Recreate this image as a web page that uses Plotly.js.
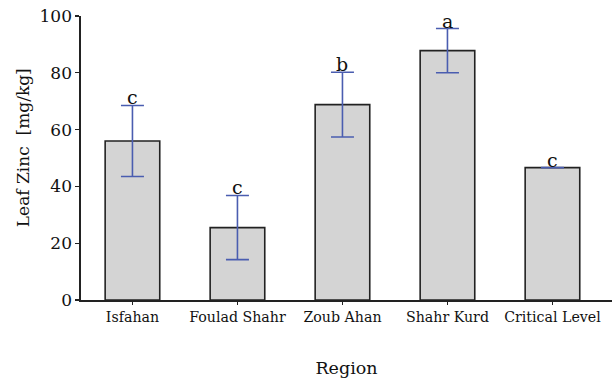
<!DOCTYPE html>
<html><head><meta charset="utf-8">
<script src="https://cdn.plot.ly/plotly-3.0.1.min.js"></script>
<style>html,body{margin:0;padding:0;background:#fff}</style>
</head><body>
<div id="chart" style="width:615px;height:378px"></div>
<script>
const regions = ["Isfahan", "Foulad Shahr", "Zoub Ahan", "Shahr Kurd", "Critical Level"];
const zinc = [56, 25.5, 68.8, 87.8, 46.6];
const errors = [12.5, 11.3, 11.4, 7.8, 0];
const letters = ["c", "c", "b", "a", "c"];
const yTicks = [0, 20, 40, 60, 80, 100];
const yTitle = "Leaf Zinc  [mg/kg]";

const serif = "DejaVu Serif, Liberation Serif, serif";

const trace = {
  type: "bar",
  x: regions,
  y: zinc,
  width: 0.52,
  marker: {color: "#d4d4d4", line: {color: "#222222", width: 1.6}},
  error_y: {type: "data", array: errors, visible: true, color: "#4a5db0", thickness: 1.6, width: 11.5},
  hoverinfo: "skip"
};

const annotations = regions.map((r, i) => ({
  x: r, y: zinc[i] + errors[i], xref: "x", yref: "y",
  text: letters[i], showarrow: false, yanchor: "bottom", yshift: -5,
  font: {family: serif, size: 19, color: "#111"}
}));
annotations.push({
  x: -0.109, y: 0.535, xref: "paper", yref: "paper",
  text: yTitle, textangle: -90, showarrow: false,
  xanchor: "center", yanchor: "middle",
  font: {family: serif, size: 17, color: "#111"}
});

const layout = {
  width: 615, height: 378,
  margin: {l: 81, r: 3, t: 16, b: 78},
  paper_bgcolor: "#fff", plot_bgcolor: "#fff",
  showlegend: false,
  font: {family: serif, color: "#111"},
  xaxis: {
    type: "category", range: [-0.49, 4.567],
    showline: true, linecolor: "#222", linewidth: 1.6,
    ticks: "outside", ticklen: 3, tickcolor: "#222", tickwidth: 1.2,
    tickfont: {family: serif, size: 14.2, color: "#111"},
    title: {text: "Region", font: {family: serif, size: 17.5, color: "#111"}, standoff: 38},
    showgrid: false, zeroline: false, fixedrange: true
  },
  yaxis: {
    range: [0, 100], tickvals: yTicks,
    showline: true, linecolor: "#222", linewidth: 1.6,
    ticks: "outside", ticklen: 4, tickcolor: "#222", tickwidth: 1.2,
    tickfont: {family: serif, size: 17, color: "#111"},
    showgrid: false, zeroline: false, fixedrange: true
  },
  annotations: annotations
};

Plotly.newPlot("chart", [trace], layout, {displayModeBar: false, staticPlot: true});
</script>
</body></html>
